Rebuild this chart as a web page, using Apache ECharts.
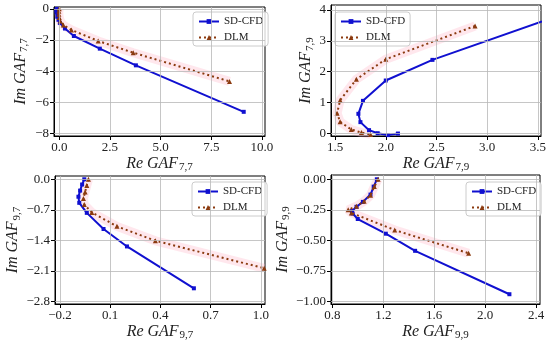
<!DOCTYPE html>
<html><head><meta charset="utf-8">
<script src="https://cdn.jsdelivr.net/npm/echarts@6/dist/echarts.min.js"></script>
<style>html,body{margin:0;padding:0;background:#fff}#c{width:550px;height:342px}</style>
</head><body><div id="c"></div>
<script>
// ---- data (Re, Im) ----
const sd77 = [[-0.12,0.0],[-0.14,-0.1],[-0.13,-0.25],[-0.1,-0.5],[-0.04,-0.7],[0.03,-0.9],[0.28,-1.26],[0.72,-1.74],[2.0,-2.55],[3.78,-3.62],[9.1,-6.6]];
const dlm77 = [[0.0,0.0],[-0.02,-0.15],[-0.02,-0.35],[0.0,-0.55],[0.05,-0.78],[0.2,-1.04],[0.6,-1.35],[1.92,-2.06],[3.65,-2.81],[8.4,-4.65]];
const sd79 = [[3.54,3.63],[2.46,2.38],[2.0,1.71],[1.775,1.05],[1.73,0.63],[1.75,0.36],[1.835,0.1],[1.92,0.0],[2.02,-0.06],[2.12,-0.01]];
const dlm79 = [[2.88,3.48],[2.0,2.4],[1.71,1.75],[1.55,1.07],[1.52,0.65],[1.55,0.37],[1.66,0.12],[1.76,0.02],[1.85,-0.04]];
const sd97 = [[-0.055,0.0],[-0.068,-0.12],[-0.08,-0.26],[-0.09,-0.4],[-0.085,-0.54],[-0.04,-0.77],[0.06,-1.14],[0.2,-1.54],[0.6,-2.5]];
const dlm97 = [[-0.03,0.0],[-0.04,-0.14],[-0.05,-0.29],[-0.06,-0.44],[-0.055,-0.58],[-0.01,-0.76],[0.14,-1.08],[0.37,-1.41],[1.02,-2.04]];
const sd99 = [[1.15,0.0],[1.125,-0.06],[1.1,-0.125],[1.04,-0.185],[0.99,-0.225],[0.955,-0.26],[0.96,-0.28],[1.0,-0.325],[1.22,-0.445],[1.45,-0.585],[2.19,-0.94]];
const dlm99 = [[1.16,0.0],[1.13,-0.06],[1.1,-0.13],[1.05,-0.18],[0.99,-0.22],[0.925,-0.25],[0.95,-0.275],[1.29,-0.415],[1.87,-0.605]];

// ---- tick labels ----
const xt77 = [0, 2.5, 5, 7.5, 10], yt77 = [0, -2, -4, -6, -8];
const xt79 = [1.5, 2.0, 2.5, 3.0, 3.5], yt79 = [0, 1, 2, 3, 4];
const xt97 = [-0.2, 0.1, 0.4, 0.7, 1.0], yt97 = [0.0, -0.7, -1.4, -2.1, -2.8];
const xt99 = [0.8, 1.2, 1.6, 2.0, 2.4], yt99 = [0.0, -0.25, -0.5, -0.75, -1.0];
const seriesNames = ['SD-CFD', 'DLM'];
const subs = ['7,7', '7,9', '9,7', '9,9'];

const font = 'Liberation Serif';
const BLUE = '#1010d0', BROWN = '#8b3a0f';

const panels = [
  {sd: sd77, dlm: dlm77, xt: xt77, yt: yt77, xd: 1, yd: 0, xr: [-0.26, 10.15], yr: [-8.15, 0.12],
   g: {left: 54, top: 7, width: 211, height: 129}, yGap: 24, leg: {left: 193, top: 12}},
  {sd: sd79, dlm: dlm79, xt: xt79, yt: yt79, xd: 1, yd: 0, xr: [1.46, 3.53], yr: [-0.09, 4.16],
   g: {left: 331, top: 5, width: 210, height: 131}, yGap: 14, leg: {left: 335, top: 12}},
  {sd: sd97, dlm: dlm97, xt: xt97, yt: yt97, xd: 1, yd: 1, xr: [-0.23, 1.025], yr: [-2.86, 0.075],
   g: {left: 55, top: 176, width: 210, height: 130}, yGap: 32, leg: {left: 192, top: 182}},
  {sd: sd99, dlm: dlm99, xt: xt99, yt: yt99, xd: 1, yd: 2, xr: [0.79, 2.43], yr: [-1.02, 0.035],
   g: {left: 331, top: 175, width: 209, height: 131}, yGap: 39, leg: {left: 466, top: 182}}
];

function fmt(v, d) { return v.toFixed(d).replace('-', '\u2212'); }
const richName = {
  i: {fontFamily: font, fontStyle: 'italic', fontSize: 16, color: '#222'},
  s: {fontFamily: font, fontSize: 11, color: '#222', padding: [8, 0, 0, 1]}
};

const grid = [], xAxis = [], yAxis = [], series = [], legend = [];
panels.forEach((p, i) => {
  grid.push(Object.assign({show: true, borderColor: '#000', borderWidth: 1, backgroundColor: 'transparent'}, p.g));
  const common = (ticks, dec) => ({
    axisLine: {show: true, onZero: false, lineStyle: {color: '#000', width: 1}},
    axisTick: {show: true, customValues: ticks, length: 4, lineStyle: {color: '#000', width: 1}},
    axisLabel: {customValues: ticks, formatter: v => fmt(v, dec), fontFamily: font, fontSize: 13, color: '#222', margin: 5},
    splitLine: {show: false}
  });
  xAxis.push(Object.assign({type: 'value', gridIndex: i, min: p.xr[0], max: p.xr[1],
    name: '{i|Re GAF}{s|' + subs[i] + '}', nameLocation: 'middle', nameGap: 18,
    nameTextStyle: {rich: richName, verticalAlign: 'top'}}, common(p.xt, p.xd)));
  yAxis.push(Object.assign({type: 'value', gridIndex: i, min: p.yr[0], max: p.yr[1],
    name: '{i|Im GAF}{s|' + subs[i] + '}', nameLocation: 'middle', nameGap: p.yGap, nameRotate: 90,
    nameTextStyle: {rich: richName}}, common(p.yt, p.yd)));
  // grid lines at the tick values
  series.push({type: 'line', xAxisIndex: i, yAxisIndex: i, data: [], silent: true, z: 0, animation: false,
    markLine: {silent: true, symbol: ['none', 'none'], label: {show: false}, animation: false,
      lineStyle: {color: '#b8b8b8', width: 0.8, type: 'solid'},
      emphasis: {disabled: true},
      data: p.xt.map(v => ({xAxis: v})).concat(p.yt.map(v => ({yAxis: v})))}});
  series.push({type: 'line', xAxisIndex: i, yAxisIndex: i, data: p.dlm, showSymbol: false, silent: true,
    lineStyle: {color: 'rgba(255,170,190,0.28)', width: 9}, z: 1, animation: false, tooltip: {show: false}});
  series.push({type: 'line', name: seriesNames[0], xAxisIndex: i, yAxisIndex: i, data: p.sd,
    symbol: 'rect', symbolSize: 4, color: BLUE, lineStyle: {color: BLUE, width: 2}, itemStyle: {color: BLUE}, z: 3, animation: false});
  series.push({type: 'line', name: seriesNames[1], xAxisIndex: i, yAxisIndex: i, data: p.dlm,
    symbol: 'triangle', symbolSize: 5, color: BROWN, lineStyle: {color: BROWN, width: 2, type: [2, 3]}, itemStyle: {color: BROWN}, z: 4, animation: false});
  legend.push({data: seriesNames, orient: 'vertical', left: p.leg.left, top: p.leg.top, itemWidth: 20, itemHeight: 6, itemGap: 5,
    padding: [4, 5, 3, 5], borderColor: '#ccc', borderWidth: 1, borderRadius: 3, backgroundColor: 'rgba(255,255,255,0.8)',
    textStyle: {fontFamily: font, fontSize: 11, color: '#222'}, selectedMode: false});
});

const chart = echarts.init(document.getElementById('c'), null, {renderer: 'canvas'});
chart.setOption({animation: false, backgroundColor: '#fff', grid, xAxis, yAxis, series, legend});
</script></body></html>
